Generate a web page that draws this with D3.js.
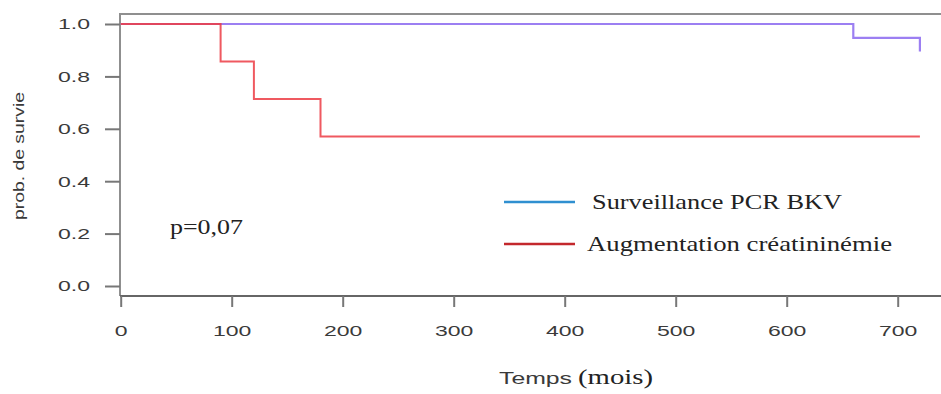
<!DOCTYPE html>
<html>
<head>
<meta charset="utf-8">
<script src="https://cdn.jsdelivr.net/npm/d3@7"></script>
<style>
  html, body { margin: 0; padding: 0; background: #fff; }
  svg { display: block; }
</style>
</head>
<body>
<svg id="chart" width="941" height="394"></svg>
<script>
// Kaplan-Meier survival curves
const seriesNames = ["Surveillance PCR BKV", "Augmentation créatininémie"];
const pcrTimes = [0, 660, 720];
const pcrSurv = [1.0, 0.947, 0.895];
const creaTimes = [0, 90, 120, 180, 720];
const creaSurv = [1.0, 0.857, 0.714, 0.571, 0.571];
const xTicks = [0, 100, 200, 300, 400, 500, 600, 700];
const yTicks = [0.0, 0.2, 0.4, 0.6, 0.8, 1.0];
const pValue = "p=0,07";

const svg = d3.select("#chart");
const x = d3.scaleLinear().domain([0, 700]).range([120.7, 897.7]);
const y = d3.scaleLinear().domain([0, 1]).range([286, 24]);

const frameLeft = 120, frameTop = 14, frameBottom = 296, frameRight = 941;

// plot frame (top and left), x axis line
svg.append("path")
  .attr("d", `M${frameRight},${frameTop}H${frameLeft}V${frameBottom}`)
  .attr("fill", "none").attr("stroke", "#8f8f8f").attr("stroke-width", 2);
svg.append("line")
  .attr("x1", frameLeft).attr("x2", frameRight)
  .attr("y1", frameBottom).attr("y2", frameBottom)
  .attr("stroke", "#666").attr("stroke-width", 2);

const sans = "'Liberation Sans', Arial, Helvetica, sans-serif";
const serif = "'Liberation Serif', 'Times New Roman', serif";

// x axis
const gx = svg.append("g").attr("transform", `translate(0,${frameBottom})`)
  .call(d3.axisBottom(x).tickValues(xTicks).tickSize(11).tickPadding(18).tickFormat(d3.format("d")));
gx.select(".domain").remove();
gx.selectAll(".tick line").attr("stroke", "#777").attr("stroke-width", 2);
gx.selectAll(".tick text")
  .attr("fill", "#3a3a3a").attr("font-family", sans).attr("font-size", 15)
  .attr("textLength", d => String(d).length * 12.8)
  .attr("lengthAdjust", "spacingAndGlyphs");

// y axis
const gy = svg.append("g").attr("transform", `translate(${frameLeft},0)`)
  .call(d3.axisLeft(y).tickValues(yTicks).tickSize(15).tickPadding(15).tickFormat(d3.format(".1f")));
gy.select(".domain").remove();
gy.selectAll(".tick line").attr("stroke", "#777").attr("stroke-width", 2);
gy.selectAll(".tick text")
  .attr("fill", "#3a3a3a").attr("font-family", sans).attr("font-size", 15)
  .attr("textLength", 32).attr("lengthAdjust", "spacingAndGlyphs");

// axis titles
svg.append("text")
  .attr("transform", "translate(24,156) rotate(-90)")
  .attr("text-anchor", "middle")
  .attr("font-family", sans).attr("font-size", 15).attr("fill", "#3a3a3a")
  .attr("textLength", 128).attr("lengthAdjust", "spacingAndGlyphs")
  .text("prob. de survie");

const xt = svg.append("text").attr("y", 384);
xt.append("tspan").attr("x", 499)
  .attr("font-family", sans).attr("font-size", 17).attr("fill", "#3a3a3a")
  .attr("textLength", 73).attr("lengthAdjust", "spacingAndGlyphs")
  .text("Temps");
xt.append("tspan").attr("x", 578)
  .attr("font-family", serif).attr("font-size", 22).attr("fill", "#222")
  .attr("textLength", 75).attr("lengthAdjust", "spacingAndGlyphs")
  .text("(mois)");

// survival step curves
const line = d3.line().x(d => x(d[0])).y(d => y(d[1])).curve(d3.curveStepAfter);
svg.append("path")
  .datum(d3.zip(pcrTimes, pcrSurv))
  .attr("d", line).attr("fill", "none")
  .attr("stroke", "#9c7ff2").attr("stroke-width", 2.2);
svg.append("path")
  .datum(d3.zip(creaTimes, creaSurv))
  .attr("d", line).attr("fill", "none")
  .attr("stroke", "#ec3c44").attr("stroke-opacity", 0.85).attr("stroke-width", 2);

// p-value annotation
svg.append("text")
  .attr("x", 170).attr("y", 234)
  .attr("font-family", serif).attr("font-size", 20)
  .attr("fill", "#222")
  .attr("textLength", 73).attr("lengthAdjust", "spacingAndGlyphs")
  .text(pValue);

// legend
const legend = [
  { name: seriesNames[0], color: "#2f8fd0", ly: 202, tx: 592, ty: 209, len: 250 },
  { name: seriesNames[1], color: "#c3282c", ly: 244, tx: 587, ty: 251, len: 305 }
];
legend.forEach(d => {
  svg.append("line")
    .attr("x1", 504).attr("x2", 575).attr("y1", d.ly).attr("y2", d.ly)
    .attr("stroke", d.color).attr("stroke-width", 2.5);
  svg.append("text")
    .attr("x", d.tx).attr("y", d.ty)
    .attr("font-family", serif).attr("font-size", 21).attr("fill", "#222")
    .attr("textLength", d.len).attr("lengthAdjust", "spacingAndGlyphs")
    .text(d.name);
});
</script>
</body>
</html>
